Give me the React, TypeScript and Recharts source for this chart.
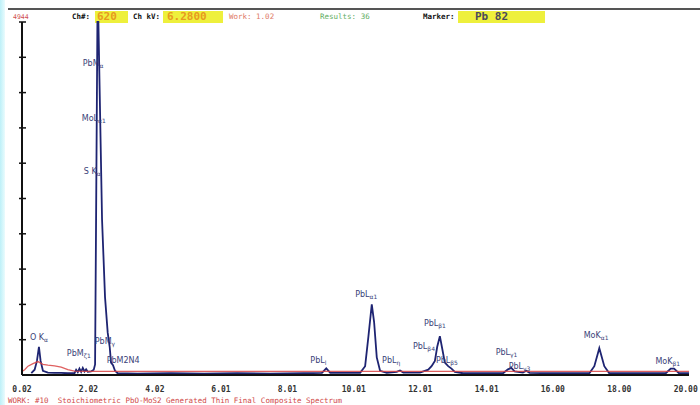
import React from 'react';
import { ComposedChart, Line, XAxis, YAxis, ReferenceDot } from 'recharts';

// spectrum (blue), keV / relative counts
const spectrumEnergy = [
  0.3, 0.4, 0.47, 0.53, 0.58, 0.65, 0.8, 1.0, 1.2, 1.4, 1.6, 1.65, 1.7, 1.75, 1.8, 1.85, 1.9, 1.95, 2.0, 2.1,
  2.18, 2.22, 2.25, 2.29, 2.32, 2.43, 2.52, 2.6, 2.66, 2.7, 2.76, 2.82, 2.9, 3.5, 4.5, 5.5, 6.5, 7.5, 8.5,
  9.05, 9.18, 9.3, 10.2, 10.35, 10.45, 10.55, 10.62, 10.7, 10.8, 11.0, 11.3, 11.4, 11.5, 12.0, 12.25, 12.35,
  12.45, 12.52, 12.6, 12.66, 12.75, 12.85, 12.95, 13.05, 13.3, 14.5, 14.65, 14.75, 14.85, 15.1, 15.2, 15.3,
  16.0, 17.1, 17.25, 17.4, 17.55, 17.7, 19.4, 19.55, 19.65, 19.8, 20.1,
];
const spectrumCounts = [
  0.5, 1.5, 4, 8, 4, 1.2, 0.7, 0.6, 0.6, 0.5, 0.5, 1.5, 0.8, 1.8, 0.9, 2.0, 1.0, 1.6, 0.9, 1.0,
  1.5, 3, 44, 100, 100, 44, 22, 12, 8, 3.5, 2.8, 1.2, 0.5, 0.4, 0.5, 0.4, 0.5, 0.4, 0.5,
  0.6, 1.9, 0.6, 0.6, 2.5, 11, 20, 15, 5, 1.2, 0.6, 0.9, 1.3, 0.7, 0.7, 1.5, 2.5,
  4, 8, 11, 8, 3.5, 2.5, 1.8, 0.9, 0.5, 0.5, 1.6, 2.0, 1.0, 0.7, 1.2, 0.6,
  0.5, 0.5, 2.5, 7.6, 2.5, 0.5, 0.5, 1.8, 1.8, 0.5, 0.5,
];

// background (red)
const backgroundEnergy = [0.02, 0.1, 0.2, 0.35, 0.5, 0.65, 0.8, 1.0, 1.2, 1.4, 1.6, 2.0, 20.1];
const backgroundCounts = [1.0, 1.5, 2.5, 3.2, 3.8, 3.0, 2.8, 2.6, 2.2, 1.5, 1.1, 1.0, 1.0];

const energyTicks = [0.02, 2.02, 4.02, 6.01, 8.01, 10.01, 12.01, 14.01, 16.0, 18.0, 20.0];
const countTicks = [10, 20, 30, 40, 50, 60, 70, 80, 90, 100];

// peak markers: name, subscript, label anchor (keV, counts)
const peakNames = ['O K', 'PbM', 'PbM', 'MoL', 'S K', 'PbM', 'PbM2N4', 'PbL', 'PbL', 'PbL', 'PbL', 'PbL', 'PbL', 'PbL', 'PbL', 'MoK', 'MoK'];
const peakSubs = ['α', 'ζ1', 'α', 'α1', 'α', 'γ', '', 'l', 'α1', 'η', 'β1', 'β4', 'β5', 'γ1', 'γ3', 'α1', 'β1'];
const peakEnergy = [0.26, 1.37, 1.85, 1.82, 1.88, 2.21, 2.57, 8.7, 10.05, 10.86, 12.12, 11.79, 12.48, 14.28, 14.67, 16.93, 19.09];
const peakLevel = [9.9, 5.4, 87.5, 72, 57, 8.8, 3.4, 3.4, 22, 3.4, 13.9, 7.4, 3.4, 5.7, 1.7, 10.5, 3.1];

const spectrum = spectrumEnergy.map((e, i) => ({ e, c: spectrumCounts[i] }));
const background = backgroundEnergy.map((e, i) => ({ e, c: backgroundCounts[i] }));

const MONO = '"DejaVu Sans Mono", monospace';

function YTick({ x, y }: any) {
  return <line x1={x - 3} x2={x + 4} y1={y} y2={y} stroke="#111" strokeWidth={1.5} />;
}

function PeakLabel({ cx, cy, name, sub }: any) {
  return (
    <text x={cx} y={cy} fill="#3a3f78" fontSize={8} fontFamily='"DejaVu Sans", sans-serif'>
      {name}
      {sub && <tspan fontSize={6} dy={2}>{sub}</tspan>}
    </text>
  );
}

function Box({ left, width, color, text, textLeft }: any) {
  return (
    <div style={{ position: 'absolute', left, top: 11, width, height: 12, background: '#eef03c' }}>
      <span style={{ position: 'absolute', left: textLeft, top: -1, fontSize: 11, fontWeight: 'bold', color, fontFamily: MONO }}>{text}</span>
    </div>
  );
}

export default function App() {
  const hdr = { position: 'absolute' as const, top: 12, fontSize: 7.5, fontFamily: MONO, lineHeight: '10px' };
  return (
    <div style={{ position: 'fixed', left: 0, top: 0, width: 700, height: 405, background: '#fff', overflow: 'hidden' }}>
      <div style={{ position: 'absolute', left: 0, top: 0, width: 5, height: 405, background: 'linear-gradient(to right, #bdf0f8, #eafbfd)' }} />
      <div style={{ position: 'absolute', left: 8, top: 8, width: 692, height: 2, background: '#555' }} />
      <span style={{ ...hdr, left: 13, color: '#d05050', fontSize: 6.5 }}>4944</span>
      <span style={{ ...hdr, left: 72, color: '#111', fontWeight: 'bold' }}>Ch#:</span>
      <Box left={95} width={33} color="#e89a20" text="620" textLeft={2} />
      <span style={{ ...hdr, left: 133, color: '#111', fontWeight: 'bold' }}>Ch kV:</span>
      <Box left={163} width={60} color="#e89a20" text="6.2800" textLeft={4} />
      <span style={{ ...hdr, left: 229, color: '#e07a68' }}>Work: 1.02</span>
      <span style={{ ...hdr, left: 320, color: '#62ad62' }}>Results: 36</span>
      <span style={{ ...hdr, left: 423, color: '#111', fontWeight: 'bold' }}>Marker:</span>
      <Box left={458} width={87} color="#4a4a5a" text="Pb  82" textLeft={17} />
      <div style={{ position: 'absolute', left: 8, top: 396, fontSize: 7.5, color: '#d04848', fontFamily: MONO, whiteSpace: 'pre' }}>
        WORK: #10  Stoichiometric PbO-MoS2 Generated Thin Final Composite Spectrum
      </div>
      <div style={{ position: 'absolute', left: 0, top: 0 }}>
        <ComposedChart width={700} height={405} margin={{ top: 22, right: 11, bottom: 0, left: 0 }}>
          <XAxis
            type="number"
            dataKey="e"
            domain={[0.02, 20.1]}
            ticks={energyTicks}
            tickFormatter={(v: number) => v.toFixed(2)}
            height={30}
            tickLine={false}
            tickSize={0}
            tickMargin={11}
            axisLine={{ stroke: '#111', strokeWidth: 2 }}
            tick={{ fill: '#333', fontSize: 8, fontWeight: 'bold', fontFamily: MONO }}
            allowDuplicatedCategory={false}
          />
          <YAxis
            type="number"
            domain={[0, 100]}
            ticks={countTicks}
            width={22}
            tickSize={0}
            tickMargin={0}
            tickLine={false}
            tick={(p: any) => <YTick x={p.x} y={p.y} />}
            axisLine={{ stroke: '#111', strokeWidth: 2 }}
          />
          <Line data={spectrum} dataKey="c" type="linear" stroke="#1e2472" strokeWidth={1.8} dot={false} isAnimationActive={false} />
          <Line data={background} dataKey="c" type="linear" stroke="#d94444" strokeWidth={1.3} strokeOpacity={0.85} dot={false} isAnimationActive={false} />
          {peakNames.map((n, i) => (
            <ReferenceDot
              key={i}
              x={peakEnergy[i]}
              y={peakLevel[i]}
              r={0}
              ifOverflow="visible"
              shape={(p: any) => <PeakLabel cx={p.cx} cy={p.cy} name={n} sub={peakSubs[i]} />}
            />
          ))}
        </ComposedChart>
      </div>
    </div>
  );
}
